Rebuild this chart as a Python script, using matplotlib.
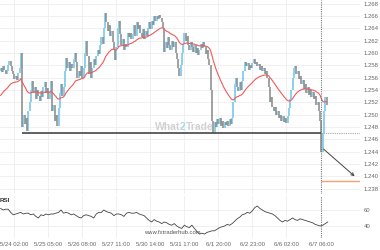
import numpy as np
import pandas as pd
from matplotlib import pyplot as plt

# hourly closes
closes = [
    1.2575, 1.2569, 1.2578, 1.2572, 1.2565, 1.2570, 1.2580, 1.2587, 1.2578, 1.2570,
    1.2566, 1.2558, 1.2562, 1.2556, 1.2568, 1.2575, 1.2599, 1.2480, 1.2500, 1.2485,
    1.2495, 1.2474, 1.2505, 1.2520, 1.2540, 1.2555, 1.2535, 1.2545, 1.2525, 1.2540,
    1.2530, 1.2522, 1.2538, 1.2528, 1.2545, 1.2552, 1.2535, 1.2543, 1.2525, 1.2538,
    1.2555, 1.2505, 1.2515, 1.2490, 1.2500, 1.2482, 1.2510, 1.2535, 1.2550, 1.2530,
    1.2545, 1.2570, 1.2592, 1.2575, 1.2585, 1.2570, 1.2582, 1.2575, 1.2590, 1.2600,
    1.2585, 1.2560, 1.2570, 1.2562, 1.2578, 1.2560, 1.2575, 1.2600, 1.2620, 1.2595,
    1.2565, 1.2585, 1.2560, 1.2575, 1.2590, 1.2580, 1.2595, 1.2605, 1.2598, 1.2612,
    1.2625, 1.2615, 1.2640, 1.2665, 1.2650, 1.2635, 1.2645, 1.2628, 1.2635, 1.2618,
    1.2605, 1.2588, 1.2610, 1.2640, 1.2652, 1.2630, 1.2612, 1.2622, 1.2605, 1.2615,
    1.2610, 1.2633, 1.2625, 1.2632, 1.2622, 1.2630, 1.2645, 1.2628, 1.2650, 1.2638,
    1.2645, 1.2632, 1.2625, 1.2638, 1.2622, 1.2635, 1.2628, 1.2640, 1.2650, 1.2638,
    1.2652, 1.2645, 1.2660, 1.2652, 1.2660, 1.2655, 1.2662, 1.2656, 1.2650, 1.2640,
    1.2602, 1.2618, 1.2608, 1.2625, 1.2612, 1.2605, 1.2620, 1.2610, 1.2618, 1.2600,
    1.2590, 1.2575, 1.2562, 1.2580, 1.2600, 1.2615, 1.2632, 1.2620, 1.2628, 1.2612,
    1.2605, 1.2618, 1.2610, 1.2602, 1.2612, 1.2600, 1.2608, 1.2596, 1.2605, 1.2615,
    1.2608, 1.2618, 1.2610, 1.2598, 1.2605, 1.2590, 1.2580, 1.2540, 1.2490, 1.2470,
    1.2488, 1.2480, 1.2492, 1.2485, 1.2495, 1.2482, 1.2490, 1.2478, 1.2488, 1.2483,
    1.2490, 1.2482, 1.2492, 1.2485, 1.2495, 1.2520, 1.2550, 1.2560, 1.2545, 1.2538,
    1.2552, 1.2540, 1.2555, 1.2570, 1.2585, 1.2578, 1.2583, 1.2572, 1.2580, 1.2575,
    1.2583, 1.2590, 1.2582, 1.2586, 1.2578, 1.2582, 1.2572, 1.2578, 1.2570, 1.2575,
    1.2566, 1.2570, 1.2560, 1.2545, 1.2520, 1.2528, 1.2512, 1.2505, 1.2512, 1.2500,
    1.2505, 1.2495, 1.2500, 1.2490, 1.2498, 1.2488, 1.2495, 1.2487, 1.2497, 1.2510,
    1.2525, 1.2540, 1.2560, 1.2575, 1.2578, 1.2565, 1.2570, 1.2558, 1.2562, 1.2550,
    1.2556, 1.2542, 1.2550, 1.2535, 1.2545, 1.2532, 1.2540, 1.2528, 1.2536, 1.2526,
    1.2530, 1.2515, 1.2520, 1.2505, 1.2490, 1.2440, 1.2470, 1.2505, 1.2528, 1.2515,
]
first_open = 1.2570
ma_start = 1.2528
ma_span = 30

# RSI read every second bar
rsi_vals = [
    62, 60, 61, 61, 57, 54, 55, 56, 57, 55, 56, 56, 54, 55, 52, 50, 54, 53, 55, 54,
    55, 55, 56, 57, 60, 56, 57, 56, 54, 55, 53, 51, 50, 53, 54, 53, 52, 50, 55, 57,
    57, 60, 58, 57, 56, 53, 55, 55, 54, 52, 56, 57, 56, 56, 57, 55, 54, 53, 50, 47,
    45, 48, 46, 45, 43, 45, 44, 42, 41, 43, 40, 38, 37, 41, 39, 38, 41, 37, 33, 30,
    31, 30, 32, 33, 34, 34, 36, 38, 39, 40, 42, 41, 43, 46, 49, 51, 54, 55, 57, 56,
    59, 63, 65, 62, 60, 58, 57, 56, 55, 53, 50, 47, 45, 47, 46, 48, 50, 48, 47, 49,
    48, 47, 46, 45, 44, 42, 41, 40, 41, 43, 45,
]
rsi_step = 2

tick_pos = [11, 38, 65, 92, 119, 146, 173, 200, 227]
tick_labels = ['5/24 02:00', '5/25 05:00', '5/26 08:00', '5/27 11:00', '5/30 14:00',
               '5/31 17:00', '6/1 20:00', '6/2 23:00', '6/6 02:00']
event_pos = 255
event_label = '6/7 06:00'

support = 1.2470
support_start = 17
breakout_price = 1.2447
arrow_end = (283, 1.2397)
target = 1.2392
price_ticks = [1.238, 1.240, 1.242, 1.244, 1.246, 1.248, 1.250, 1.252, 1.254,
               1.256, 1.258, 1.260, 1.262, 1.264, 1.266, 1.268]

plt.rcParams['font.family'] = ['Liberation Sans', 'DejaVu Sans']

up_color = '#72c6ea'
down_color = '#8c8c8c'
grid_color = '#eeeeee'
text_color = '#666666'

fig = plt.figure(figsize=(3.8, 2.5), dpi=100)
ax = fig.add_axes([0, 0.224, 0.947, 0.776])
ax2 = fig.add_axes([0, 0.048, 0.947, 0.168], sharex=ax)

x = np.arange(len(closes))
c = np.array(closes)
o = np.concatenate([[first_open], c[:-1]])
up = c >= o
ax.vlines(x[up], o[up], c[up], color=up_color, lw=1.15, zorder=3)
ax.vlines(x[~up], o[~up], c[~up], color=down_color, lw=1.15, zorder=3)

ma = pd.Series([ma_start] + closes).ewm(span=ma_span, adjust=False).mean().values[1:]
ax.plot(x, ma, color='#f05a5a', lw=0.8, zorder=4)

# support line and its dotted extension
ax.hlines(support, support_start, event_pos, color='#555555', lw=1.3, zorder=5)
ax.hlines(support, event_pos, 290, color='#aaaaaa', lw=0.8, linestyles=(0, (1, 1)), zorder=2)
ax.hlines(target, event_pos, 290, color='#f4a070', lw=1.0, zorder=5)
ax.annotate('', xy=arrow_end, xytext=(event_pos, breakout_price),
            arrowprops=dict(arrowstyle='->', color='#444444', lw=0.7,
                            mutation_scale=5), zorder=6)

for a in (ax, ax2):
    a.axvline(event_pos, color='#777777', lw=0.8, ls=(0, (1, 1)), zorder=6)
    for p in tick_pos:
        a.axvline(p, color=grid_color, lw=0.6, zorder=0)
    for s in a.spines.values():
        s.set_visible(False)
    a.yaxis.tick_right()
    a.tick_params(axis='y', length=0, pad=3, labelsize=4.3, labelcolor=text_color)

ax.set_yticks(price_ticks)
ax.set_yticklabels(['%.3f' % t for t in price_ticks])
for t in price_ticks:
    ax.axhline(t, color=grid_color, lw=0.6, zorder=0)
ax.set_ylim(1.23712, 1.26857)
ax.set_xlim(-0.5, 285.5)
ax.tick_params(axis='x', bottom=False, labelbottom=False)

ax.text(0.5, 0.345, 'What', transform=ax.transAxes, fontsize=7.5, fontweight='bold',
        color='#d2d2d2', ha='right', va='center')
ax.text(0.5, 0.345, '2', transform=ax.transAxes, fontsize=7.5, fontweight='bold',
        color='#a8d8ef', ha='left', va='center')
ax.text(0.516, 0.345, 'Trade', transform=ax.transAxes, fontsize=7.5, fontweight='bold',
        color='#d2d2d2', ha='left', va='center')

rx = np.arange(len(rsi_vals)) * rsi_step
ax2.plot(rx, rsi_vals, color='#444444', lw=0.6, zorder=3)
ax2.set_ylim(25, 77.5)
ax2.set_yticks([40, 60])
for t in (40, 60):
    ax2.axhline(t, color=grid_color, lw=0.6, zorder=0)
ax2.set_xticks(tick_pos + [event_pos])
ax2.set_xticklabels(tick_labels + [event_label])
ax2.tick_params(axis='x', length=0, pad=3, labelsize=4.3, labelcolor=text_color)
ax2.text(0.0, 0.95, 'RSI', transform=ax2.transAxes, fontsize=4.5, fontweight='bold',
         color='#333333', ha='left', va='top')
ax2.text(0.40, 0.06, 'www.fxtraderhub.com', transform=ax2.transAxes, fontsize=4.2,
         color='#555555', ha='left', va='bottom')

fig.savefig('out.png', dpi=100)
